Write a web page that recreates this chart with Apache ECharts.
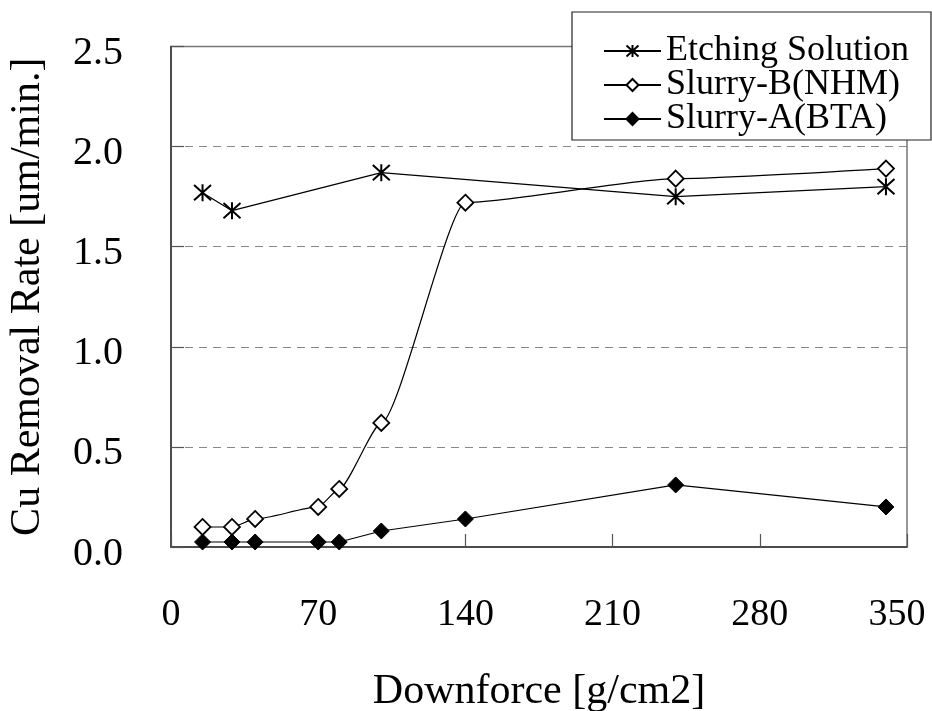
<!DOCTYPE html>
<html>
<head>
<meta charset="utf-8">
<script src="https://cdn.jsdelivr.net/npm/echarts@6/dist/echarts.min.js"></script>
<style>html,body{margin:0;padding:0;background:#fff;}#c{width:932px;height:711px;}</style>
</head>
<body>
<div id="c"></div>
<script>
// Data
const etchingX = [15, 29, 100, 240, 340];
const etchingY = [1.77, 1.68, 1.87, 1.75, 1.80];
const slurryBX = [15, 29, 40, 70, 80, 100, 140, 240, 340];
const slurryBY = [0.10, 0.10, 0.14, 0.20, 0.29, 0.62, 1.72, 1.84, 1.89];
const slurryAX = [15, 29, 40, 70, 80, 100, 140, 240, 340];
const slurryAY = [0.025, 0.025, 0.025, 0.025, 0.025, 0.08, 0.14, 0.31, 0.20];
const seriesNames = ['Etching Solution', 'Slurry-B(NHM)', 'Slurry-A(BTA)'];
const xTicks = [0, 70, 140, 210, 280, 350];
const yTicks = [0.0, 0.5, 1.0, 1.5, 2.0, 2.5];

const pairs = (xs, ys) => xs.map((x, i) => [x, ys[i]]);
const FONT = "'Liberation Serif', 'Times New Roman', serif";
const asterisk = 'path://M10,0 L10,20 M1,1 L19,19 M19,1 L1,19';

const chart = echarts.init(document.getElementById('c'), null, {renderer: 'canvas'});
chart.setOption({
  animation: false,
  backgroundColor: '#fff',
  grid: {left: 171, right: 25, top: 46.5, bottom: 164, show: true, borderColor: '#777', borderWidth: 1.5,
         containLabel: false, outerBoundsMode: 'none'},
  xAxis: {
    type: 'value', min: xTicks[0], max: xTicks[xTicks.length - 1], interval: 70,
    axisLine: {show: true, lineStyle: {color: '#333', width: 1.5}},
    axisTick: {show: true, inside: true, length: 13, lineStyle: {color: '#555', width: 1.2}},
    axisLabel: {
      margin: 49, fontFamily: FONT, fontSize: 38, color: '#000',
      formatter: v => v === 350 ? '{last|350}' : String(v),
      rich: {last: {fontFamily: FONT, fontSize: 38, color: '#000', padding: [0, 20, 0, 0]}}
    },
    splitLine: {show: false},
    name: 'Downforce [g/cm2]', nameLocation: 'middle', nameGap: 124,
    nameTextStyle: {fontFamily: FONT, fontSize: 42, color: '#000'}
  },
  yAxis: {
    type: 'value', min: yTicks[0], max: yTicks[yTicks.length - 1], interval: 0.5,
    axisLine: {show: true, lineStyle: {color: '#333', width: 1.5}},
    axisTick: {show: true, inside: true, length: 13, lineStyle: {color: '#555', width: 1.2}},
    axisLabel: {
      margin: 48, fontFamily: FONT, fontSize: 40, color: '#000',
      formatter: v => '{a|' + v.toFixed(1) + '}',
      rich: {a: {fontFamily: FONT, fontSize: 40, color: '#000', padding: [14, 0, 0, 0]}}
    },
    splitLine: {show: true, showMinLine: false, showMaxLine: false, lineStyle: {color: '#888', type: [8, 6], width: 1.2}},
    name: 'Cu Removal Rate [um/min.]', nameLocation: 'middle', nameGap: 122, nameRotate: 90,
    nameTextStyle: {fontFamily: FONT, fontSize: 42, color: '#000'}
  },
  legend: {
    orient: 'vertical', left: 572, top: 12,
    padding: [21, 22, 3, 31], itemGap: -2,
    itemWidth: 57, itemHeight: 15,
    backgroundColor: '#fff', borderColor: '#222', borderWidth: 1.2,
    textStyle: {fontFamily: FONT, fontSize: 36, color: '#000'},
    data: seriesNames
  },
  series: [
    {
      name: seriesNames[0], type: 'line', data: pairs(etchingX, etchingY),
      symbol: asterisk, symbolSize: 17,
      lineStyle: {color: '#000', width: 1.2},
      itemStyle: {color: '#000', borderColor: '#000', borderWidth: 2}
    },
    {
      name: seriesNames[1], type: 'line', data: pairs(slurryBX, slurryBY), smooth: 0.2, smoothMonotone: 'x',
      symbol: 'diamond', symbolSize: 16,
      lineStyle: {color: '#000', width: 1.2},
      itemStyle: {color: '#fff', borderColor: '#000', borderWidth: 1.8}
    },
    {
      name: seriesNames[2], type: 'line', data: pairs(slurryAX, slurryAY),
      symbol: 'diamond', symbolSize: 16,
      lineStyle: {color: '#000', width: 1.2},
      itemStyle: {color: '#000', borderColor: '#000', borderWidth: 1}
    }
  ]
});
</script>
</body>
</html>
